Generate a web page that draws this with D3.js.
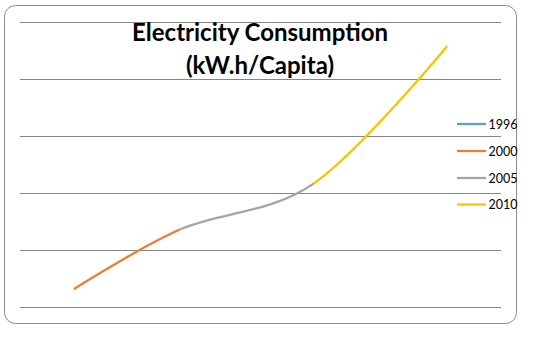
<!DOCTYPE html>
<html>
<head>
<meta charset="utf-8">
<script src="https://cdn.jsdelivr.net/npm/d3@7"></script>
<style>
  html, body { margin: 0; padding: 0; background: #fff; }
  svg { display: block; }
</style>
</head>
<body>
<svg id="chart" width="540" height="337"></svg>
<script>
// Electricity consumption per capita (kW.h), one value per year
const years = [1996, 2000, 2005, 2010];
const consumption = [155, 680, 1083, 2288];
const seriesNames = ["1996", "2000", "2005", "2010"];
const seriesColors = ["#5B9BD5", "#ED7D31", "#A5A5A5", "#FFC000"];
const yTicks = [0, 500, 1000, 1500, 2000, 2500];
const titleLines = ["Electricity Consumption", "(kW.h/Capita)"];

const svg = d3.select("#chart");

// outer chart frame
svg.append("rect")
  .attr("x", 4.5).attr("y", 5.5)
  .attr("width", 512).attr("height", 318)
  .attr("rx", 11).attr("ry", 11)
  .attr("fill", "#fff")
  .attr("stroke", "#8c8c8c")
  .attr("stroke-width", 1);

const x = d3.scaleLinear().domain([1994, 2012]).range([20, 501]);
const y = d3.scaleLinear().domain([0, 2500]).range([307, 21.5]);

// horizontal gridlines
svg.append("g")
  .selectAll("line")
  .data(yTicks)
  .join("line")
  .attr("x1", x.range()[0]).attr("x2", x.range()[1])
  .attr("y1", d => Math.round(y(d)) + 0.5)
  .attr("y2", d => Math.round(y(d)) + 0.5)
  .attr("stroke", "#868686")
  .attr("stroke-width", 1);

// smoothed line through all points, coloured per year interval
const pts = years.map((yr, i) => [x(yr), y(consumption[i])]);
const lineGen = d3.line().curve(d3.curveCardinal.tension(0));
const pathD = lineGen(pts);

const defs = svg.append("defs");
for (let i = 1; i < years.length; i++) {
  const x0 = x(years[i - 1]), x1 = x(years[i]);
  defs.append("clipPath").attr("id", "seg" + i)
    .append("rect")
    .attr("x", x0).attr("y", 0)
    .attr("width", x1 - x0).attr("height", 337);
  svg.append("path")
    .attr("d", pathD)
    .attr("fill", "none")
    .attr("stroke", seriesColors[i])
    .attr("stroke-width", 2.25)
    .attr("clip-path", "url(#seg" + i + ")");
}

// title
const title = svg.append("text")
  .attr("text-anchor", "middle")
  .attr("font-family", "Lato, 'Open Sans', sans-serif")
  .attr("font-weight", "bold")
  .attr("font-size", 24)
  .attr("fill", "#000");
title.selectAll("tspan")
  .data(titleLines)
  .join("tspan")
  .attr("x", 260)
  .attr("y", (d, i) => 40.5 + i * 33)
  .text(d => d);

// legend
const legend = svg.append("g");
const legendY = [124, 151, 178, 204.5];
seriesNames.forEach((name, i) => {
  legend.append("line")
    .attr("x1", 457).attr("x2", 486)
    .attr("y1", legendY[i]).attr("y2", legendY[i])
    .attr("stroke", seriesColors[i])
    .attr("stroke-width", 2.25);
  legend.append("text")
    .attr("x", 488.5)
    .attr("y", legendY[i] + 4.5)
    .attr("font-family", "Lato, 'Open Sans', sans-serif")
    .attr("font-size", 12.5)
    .attr("fill", "#000")
    .text(name);
});
</script>
</body>
</html>
